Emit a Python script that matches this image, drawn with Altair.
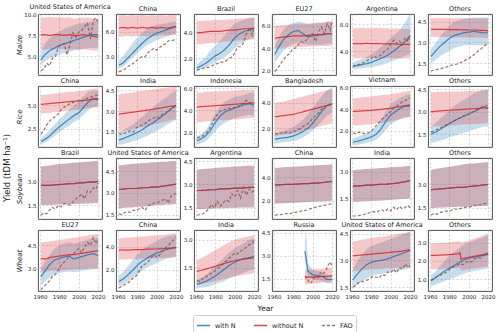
import altair as alt
import pandas as pd

# ---------------------------------------------------------------- year grids
YEARS = [1961, 1965, 1970, 1975, 1980, 1985, 1990, 1995, 2000, 2005, 2010, 2015, 2020]
FAO_YEARS = [1961, 1964, 1967, 1970, 1973, 1976, 1979, 1982, 1985, 1988, 1991,
             1994, 1997, 2000, 2003, 2006, 2009, 2012, 2015, 2018, 2020]
RU_YEARS = [1992, 1993, 1995, 2000, 2005, 2010, 2015, 2020]
RU_FAO_YEARS = [1992, 1994, 1996, 1998, 2000, 2002, 2004, 2006, 2008, 2010, 2012, 2014, 2016, 2018, 2020]
OTH_WHEAT_NN_YEARS = [1961, 1965, 1970, 1975, 1980, 1985, 1990, 1991, 1992, 1995, 2000, 2005, 2010, 2015, 2020]

SERIES = ["with N", "without N", "FAO"]
CROPS = ["Maize", "Rice", "Soybean", "Wheat"]

# ---------------------------------------------------------------- maize
maize_usa_wn = [4.6, 5.2, 5.7, 6.0, 6.3, 6.5, 6.7, 6.9, 7.1, 7.3, 7.5, 7.6, 7.6]
maize_usa_wn_lo = [4.0, 4.4, 4.8, 5.0, 5.2, 5.4, 5.6, 5.7, 5.8, 5.9, 6.0, 6.0, 6.1]
maize_usa_wn_hi = [5.6, 6.5, 7.2, 7.6, 8.0, 8.3, 8.5, 8.7, 8.9, 9.0, 9.1, 9.2, 9.3]
maize_usa_nn = [7.6, 7.6, 7.5, 7.6, 7.6, 7.5, 7.6, 7.5, 7.5, 7.6, 7.5, 7.4, 7.3]
maize_usa_nn_lo = [5.8, 5.8, 5.9, 5.9, 5.9, 5.9, 5.8, 5.9, 5.8, 5.9, 5.8, 5.7, 5.7]
maize_usa_nn_hi = [9.7, 9.6, 9.7, 9.6, 9.7, 9.6, 9.7, 9.5, 9.6, 9.6, 9.6, 9.5, 9.4]
maize_usa_fao = [3.3, 3.5, 4.2, 3.9, 4.8, 5.0, 6.2, 6.4, 6.5, 5.2, 6.4, 7.8, 7.3, 7.9, 8.1, 8.5, 9.0, 7.1, 9.3, 9.6, 9.0]

maize_chn_wn = [2.0, 2.2, 2.8, 3.4, 4.0, 4.6, 5.1, 5.5, 5.8, 6.0, 6.2, 6.4, 6.6]
maize_chn_wn_lo = [1.6, 1.8, 2.3, 2.9, 3.4, 3.9, 4.4, 4.7, 5.0, 5.2, 5.4, 5.6, 5.8]
maize_chn_wn_hi = [2.6, 3.0, 3.8, 4.6, 5.3, 5.9, 6.3, 6.6, 6.8, 6.9, 7.0, 7.1, 7.2]
maize_chn_nn = [6.4, 6.5, 6.4, 6.5, 6.4, 6.5, 6.4, 6.5, 6.4, 6.5, 6.4, 6.5, 6.6]
maize_chn_nn_lo = [5.4, 5.4, 5.5, 5.4, 5.5, 5.5, 5.4, 5.5, 5.5, 5.6, 5.5, 5.6, 5.6]
maize_chn_nn_hi = [7.9, 8.0, 7.9, 8.0, 7.9, 8.0, 7.9, 8.0, 7.9, 8.0, 7.9, 8.0, 8.0]
maize_chn_fao = [1.2, 1.3, 1.5, 1.8, 2.0, 2.2, 2.5, 2.8, 3.0, 3.0, 3.5, 3.7, 4.0, 3.8, 4.1, 4.4, 4.5, 4.9, 4.9, 5.0, 5.0]

maize_bra_wn = [1.25, 1.4, 1.6, 1.9, 2.2, 2.4, 2.7, 3.1, 3.6, 3.9, 4.1, 4.2, 4.3]
maize_bra_wn_lo = [1.0, 1.1, 1.3, 1.5, 1.7, 1.9, 2.1, 2.4, 2.8, 3.1, 3.3, 3.5, 3.6]
maize_bra_wn_hi = [1.5, 1.8, 2.1, 2.6, 3.0, 3.4, 3.8, 4.3, 4.7, 4.9, 5.0, 5.1, 5.2]
maize_bra_nn = [4.0, 4.0, 4.05, 4.1, 4.1, 4.1, 4.15, 4.2, 4.2, 4.25, 4.3, 4.3, 4.35]
maize_bra_nn_lo = [3.1, 3.1, 3.15, 3.2, 3.2, 3.25, 3.3, 3.3, 3.35, 3.4, 3.4, 3.45, 3.5]
maize_bra_nn_hi = [4.9, 4.9, 4.95, 4.95, 5.0, 5.0, 5.0, 5.05, 5.05, 5.1, 5.1, 5.15, 5.15]
maize_bra_fao = [1.1, 1.15, 1.2, 1.3, 1.3, 1.4, 1.5, 1.6, 1.7, 1.7, 1.8, 2.0, 2.1, 2.4, 2.9, 2.9, 3.2, 3.9, 4.4, 3.8, 4.4]

maize_eu_wn = [3.45, 4.1, 4.8, 5.2, 5.5, 5.6, 5.3, 5.0, 5.1, 5.2, 5.2, 5.3, 5.3]
maize_eu_wn_lo = [2.7, 3.2, 3.8, 4.2, 4.4, 4.5, 4.4, 4.3, 4.3, 4.3, 4.3, 4.4, 4.4]
maize_eu_wn_hi = [4.2, 5.0, 5.7, 6.1, 6.3, 6.4, 6.3, 6.2, 6.2, 6.3, 6.3, 6.4, 6.4]
maize_eu_nn = [4.9, 4.95, 5.0, 5.05, 5.1, 5.1, 5.1, 5.15, 5.2, 5.2, 5.25, 5.3, 5.3]
maize_eu_nn_lo = [4.0, 4.0, 4.05, 4.05, 4.1, 4.1, 4.1, 4.15, 4.15, 4.2, 4.2, 4.2, 4.25]
maize_eu_nn_hi = [6.0, 6.05, 6.1, 6.1, 6.15, 6.2, 6.2, 6.2, 6.25, 6.3, 6.3, 6.35, 6.4]
maize_eu_fao = [1.9, 2.2, 2.6, 3.0, 3.3, 3.5, 3.9, 4.0, 4.3, 4.6, 4.5, 4.8, 5.2, 5.3, 4.6, 5.5, 5.9, 5.3, 6.2, 5.6, 6.4]

maize_arg_wn = [1.75, 1.8, 1.95, 2.1, 2.3, 2.6, 2.9, 3.2, 3.7, 4.2, 4.8, 5.4, 6.3]
maize_arg_wn_lo = [1.3, 1.35, 1.4, 1.5, 1.6, 1.7, 1.9, 2.1, 2.4, 2.7, 3.0, 3.3, 3.6]
maize_arg_wn_hi = [2.3, 2.5, 2.8, 3.1, 3.5, 4.0, 4.6, 5.3, 6.0, 6.6, 7.3, 8.3, 9.5]
maize_arg_nn = [5.1, 5.1, 5.1, 5.15, 5.1, 5.1, 5.1, 5.05, 5.1, 5.05, 5.0, 5.0, 5.0]
maize_arg_nn_lo = [2.9, 2.9, 2.95, 2.9, 2.95, 2.9, 2.9, 2.95, 2.9, 2.9, 2.85, 2.9, 2.85]
maize_arg_nn_hi = [7.4, 7.4, 7.45, 7.4, 7.4, 7.45, 7.4, 7.4, 7.35, 7.4, 7.35, 7.3, 7.3]
maize_arg_fao = [1.7, 1.9, 2.0, 2.0, 2.4, 2.6, 2.7, 3.2, 3.0, 3.2, 3.6, 4.0, 4.3, 5.0, 5.6, 5.1, 5.5, 4.9, 6.0, 5.4, 6.4]

maize_oth_wn = [2.0, 2.3, 2.7, 3.0, 3.3, 3.5, 3.6, 3.7, 3.75, 3.8, 3.75, 3.7, 3.7]
maize_oth_wn_lo = [1.5, 1.7, 2.0, 2.2, 2.4, 2.6, 2.7, 2.8, 2.8, 2.8, 2.8, 2.8, 2.8]
maize_oth_wn_hi = [2.5, 2.9, 3.4, 3.8, 4.2, 4.5, 4.6, 4.7, 4.75, 4.8, 4.8, 4.8, 4.8]
maize_oth_nn = [3.95, 3.95, 3.94, 3.94, 3.93, 3.93, 3.92, 3.91, 3.9, 3.9, 3.88, 3.87, 3.85]
maize_oth_nn_lo = [3.4, 3.4, 3.4, 3.39, 3.39, 3.38, 3.38, 3.37, 3.36, 3.36, 3.35, 3.34, 3.33]
maize_oth_nn_hi = [4.75, 4.75, 4.76, 4.75, 4.76, 4.75, 4.75, 4.74, 4.75, 4.74, 4.73, 4.73, 4.72]
maize_oth_fao = [0.95, 1.0, 1.05, 1.1, 1.15, 1.2, 1.3, 1.35, 1.4, 1.45, 1.55, 1.6, 1.75, 1.85, 2.0, 2.15, 2.35, 2.5, 2.7, 2.85, 3.0]

# ---------------------------------------------------------------- rice
rice_chn_wn = [1.1, 1.3, 1.7, 2.2, 2.7, 3.1, 3.5, 3.9, 4.2, 4.8, 5.4, 5.7, 5.6]
rice_chn_wn_lo = [0.8, 0.95, 1.3, 1.7, 2.1, 2.5, 2.8, 3.2, 3.5, 4.0, 4.5, 4.8, 4.8]
rice_chn_wn_hi = [1.5, 1.8, 2.3, 2.9, 3.5, 4.0, 4.5, 5.0, 5.4, 6.0, 6.5, 6.6, 6.6]
rice_chn_nn = [5.1, 5.15, 5.2, 5.25, 5.3, 5.35, 5.4, 5.45, 5.5, 5.55, 5.6, 5.7, 5.75]
rice_chn_nn_lo = [4.1, 4.15, 4.2, 4.25, 4.3, 4.4, 4.4, 4.5, 4.5, 4.6, 4.7, 4.8, 4.9]
rice_chn_nn_hi = [6.1, 6.15, 6.2, 6.3, 6.35, 6.4, 6.45, 6.5, 6.55, 6.6, 6.7, 6.8, 6.85]
rice_chn_fao = [1.9, 2.3, 2.9, 3.3, 3.6, 3.8, 4.1, 4.6, 4.8, 5.0, 5.2, 5.3, 5.4, 5.5, 5.4, 5.6, 5.8, 5.9, 6.0, 6.1, 6.1]

rice_ind_wn = [0.9, 1.0, 1.15, 1.3, 1.45, 1.65, 1.9, 2.1, 2.35, 2.6, 2.9, 3.2, 3.4]
rice_ind_wn_lo = [0.55, 0.6, 0.7, 0.8, 0.9, 1.05, 1.2, 1.4, 1.55, 1.75, 2.0, 2.2, 2.4]
rice_ind_wn_hi = [1.4, 1.6, 1.8, 2.0, 2.3, 2.6, 2.9, 3.2, 3.5, 3.8, 4.0, 4.3, 4.5]
rice_ind_nn = [2.78, 2.82, 2.87, 2.92, 2.97, 3.02, 3.07, 3.12, 3.18, 3.24, 3.3, 3.36, 3.4]
rice_ind_nn_lo = [1.5, 1.55, 1.6, 1.7, 1.8, 1.85, 1.9, 2.0, 2.1, 2.2, 2.25, 2.35, 2.4]
rice_ind_nn_hi = [4.2, 4.25, 4.3, 4.35, 4.4, 4.45, 4.5, 4.55, 4.6, 4.65, 4.7, 4.75, 4.8]
rice_ind_fao = [1.4, 1.3, 1.4, 1.5, 1.6, 1.5, 1.8, 1.9, 2.0, 2.1, 2.3, 2.4, 2.5, 2.6, 2.5, 2.8, 2.8, 3.0, 3.1, 3.3, 3.4]

rice_idn_wn = [1.25, 1.4, 1.7, 2.2, 2.9, 3.5, 3.85, 4.05, 4.2, 4.35, 4.5, 4.6, 4.45]
rice_idn_wn_lo = [0.9, 1.0, 1.2, 1.6, 2.1, 2.6, 2.9, 3.1, 3.3, 3.4, 3.5, 3.6, 3.5]
rice_idn_wn_hi = [1.6, 1.8, 2.2, 2.9, 3.7, 4.4, 4.8, 5.0, 5.2, 5.3, 5.4, 5.6, 5.6]
rice_idn_nn = [4.3, 4.33, 4.36, 4.39, 4.42, 4.45, 4.48, 4.52, 4.55, 4.58, 4.62, 4.65, 4.68]
rice_idn_nn_lo = [2.9, 2.95, 3.0, 3.0, 3.05, 3.1, 3.1, 3.15, 3.2, 3.2, 3.25, 3.3, 3.3]
rice_idn_nn_hi = [5.6, 5.62, 5.65, 5.67, 5.7, 5.72, 5.75, 5.77, 5.8, 5.82, 5.85, 5.87, 5.9]
rice_idn_fao = [1.5, 1.6, 1.7, 1.9, 2.2, 2.7, 3.2, 3.6, 3.9, 4.0, 4.1, 4.2, 4.1, 4.3, 4.4, 4.4, 4.7, 4.9, 4.7, 4.6, 4.6]

rice_bgd_wn = [1.15, 1.2, 1.25, 1.3, 1.4, 1.55, 1.75, 2.0, 2.4, 2.9, 3.4, 3.8, 3.9]
rice_bgd_wn_lo = [0.8, 0.85, 0.9, 0.95, 1.0, 1.1, 1.3, 1.5, 1.8, 2.2, 2.6, 3.0, 3.2]
rice_bgd_wn_hi = [1.6, 1.7, 1.8, 1.95, 2.1, 2.4, 2.7, 3.1, 3.6, 4.1, 4.6, 5.0, 5.2]
rice_bgd_nn = [2.9, 2.95, 3.0, 3.05, 3.1, 3.2, 3.3, 3.4, 3.5, 3.6, 3.7, 3.8, 3.9]
rice_bgd_nn_lo = [1.4, 1.45, 1.5, 1.55, 1.6, 1.7, 1.8, 1.9, 2.0, 2.1, 2.2, 2.3, 2.4]
rice_bgd_nn_hi = [4.0, 4.05, 4.1, 4.2, 4.3, 4.4, 4.5, 4.6, 4.7, 4.8, 4.9, 5.0, 5.1]
rice_bgd_fao = [1.6, 1.55, 1.65, 1.6, 1.7, 1.6, 1.75, 1.8, 1.9, 2.0, 2.2, 2.3, 2.5, 2.8, 3.0, 3.2, 3.5, 3.7, 3.8, 3.9, 4.0]

rice_vnm_wn = [0.97, 1.05, 1.15, 1.3, 1.45, 1.7, 2.2, 2.9, 3.5, 3.8, 4.1, 4.3, 4.3]
rice_vnm_wn_lo = [0.65, 0.7, 0.8, 0.9, 1.0, 1.2, 1.6, 2.1, 2.6, 2.9, 3.1, 3.3, 3.3]
rice_vnm_wn_hi = [1.3, 1.45, 1.6, 1.8, 2.0, 2.4, 3.0, 3.8, 4.5, 4.8, 5.1, 5.3, 5.4]
rice_vnm_nn = [3.8, 3.82, 3.85, 3.88, 3.9, 3.95, 4.0, 4.05, 4.1, 4.2, 4.25, 4.35, 4.4]
rice_vnm_nn_lo = [2.5, 2.5, 2.55, 2.6, 2.6, 2.7, 2.75, 2.8, 2.9, 3.0, 3.1, 3.2, 3.3]
rice_vnm_nn_hi = [5.0, 5.05, 5.1, 5.15, 5.2, 5.25, 5.3, 5.35, 5.4, 5.5, 5.55, 5.65, 5.7]
rice_vnm_fao = [1.8, 1.75, 1.9, 1.85, 1.75, 1.8, 1.9, 2.2, 2.5, 2.8, 3.1, 3.3, 3.6, 3.8, 4.1, 4.3, 4.5, 4.7, 4.8, 5.0, 5.1]

rice_oth_wn = [1.5, 1.6, 1.8, 2.0, 2.2, 2.4, 2.55, 2.7, 2.85, 3.0, 3.15, 3.35, 3.2]
rice_oth_wn_lo = [0.9, 0.95, 1.05, 1.15, 1.3, 1.4, 1.5, 1.6, 1.7, 1.8, 1.9, 2.0, 2.0]
rice_oth_wn_hi = [2.0, 2.2, 2.5, 2.8, 3.1, 3.4, 3.6, 3.8, 4.0, 4.2, 4.35, 4.45, 4.5]
rice_oth_nn = [3.0, 3.02, 3.05, 3.07, 3.1, 3.12, 3.13, 3.16, 3.18, 3.2, 3.22, 3.25, 3.25]
rice_oth_nn_lo = [2.0, 2.02, 2.05, 2.06, 2.08, 2.1, 2.12, 2.15, 2.16, 2.18, 2.2, 2.22, 2.25]
rice_oth_nn_hi = [4.3, 4.31, 4.33, 4.33, 4.34, 4.36, 4.36, 4.37, 4.39, 4.4, 4.41, 4.43, 4.45]
rice_oth_fao = [1.65, 1.7, 1.8, 1.9, 2.0, 2.1, 2.2, 2.3, 2.4, 2.5, 2.6, 2.7, 2.8, 2.85, 2.95, 3.05, 3.15, 3.25, 3.35, 3.4, 3.4]

# ---------------------------------------------------------------- soybean (with N == without N)
soy_bra_mid = [2.75, 2.75, 2.75, 2.78, 2.8, 2.82, 2.85, 2.85, 2.9, 2.9, 2.95, 2.95, 3.0]
soy_bra_lo = [1.5, 1.5, 1.5, 1.52, 1.55, 1.55, 1.55, 1.57, 1.58, 1.6, 1.6, 1.62, 1.65]
soy_bra_hi = [3.95, 3.98, 4.0, 4.05, 4.1, 4.12, 4.15, 4.18, 4.2, 4.22, 4.25, 4.28, 4.3]
soy_bra_fao = [0.85, 1.0, 0.95, 1.2, 1.35, 1.25, 1.5, 1.4, 1.6, 1.55, 1.5, 1.7, 1.9, 2.0, 2.2, 1.9, 2.4, 2.3, 2.6, 2.5, 2.9]

soy_usa_mid = [3.25, 3.25, 3.3, 3.3, 3.3, 3.35, 3.35, 3.4, 3.4, 3.45, 3.5, 3.55, 3.6]
soy_usa_lo = [1.9, 1.95, 2.0, 2.0, 2.05, 2.05, 2.1, 2.1, 2.15, 2.15, 2.2, 2.2, 2.25]
soy_usa_hi = [4.9, 4.92, 4.95, 5.0, 5.0, 5.05, 5.05, 5.1, 5.1, 5.15, 5.15, 5.2, 5.2]
soy_usa_fao = [1.55, 1.5, 1.65, 1.7, 1.65, 1.8, 1.8, 1.9, 2.0, 1.8, 2.1, 2.2, 2.3, 2.3, 2.4, 2.5, 2.6, 2.3, 2.8, 2.9, 2.95]

soy_arg_mid = [2.6, 2.6, 2.62, 2.65, 2.65, 2.7, 2.7, 2.72, 2.75, 2.75, 2.78, 2.8, 2.8]
soy_arg_lo = [1.4, 1.4, 1.42, 1.42, 1.45, 1.45, 1.45, 1.48, 1.48, 1.5, 1.5, 1.5, 1.52]
soy_arg_hi = [3.95, 3.98, 4.0, 4.02, 4.05, 4.08, 4.1, 4.12, 4.15, 4.15, 4.18, 4.2, 4.2]
soy_arg_fao = [1.0, 1.05, 1.1, 1.2, 1.4, 1.7, 1.5, 1.9, 1.6, 1.8, 2.0, 1.9, 2.4, 2.2, 2.6, 2.1, 2.8, 2.3, 2.7, 2.5, 2.6]

soy_chn_mid = [3.35, 3.35, 3.38, 3.4, 3.4, 3.42, 3.45, 3.45, 3.5, 3.5, 3.55, 3.6, 3.65]
soy_chn_lo = [1.75, 1.76, 1.78, 1.8, 1.82, 1.84, 1.86, 1.88, 1.9, 1.92, 1.95, 1.98, 2.0]
soy_chn_hi = [4.8, 4.82, 4.85, 4.88, 4.9, 4.92, 4.95, 4.97, 5.0, 5.02, 5.05, 5.08, 5.1]
soy_chn_fao = [0.75, 0.8, 0.8, 0.85, 0.9, 0.85, 0.95, 1.0, 1.05, 1.1, 1.15, 1.2, 1.3, 1.35, 1.45, 1.5, 1.55, 1.6, 1.65, 1.7, 1.75]

soy_ind_mid = [2.2, 2.2, 2.22, 2.25, 2.25, 2.28, 2.3, 2.3, 2.33, 2.35, 2.4, 2.45, 2.5]
soy_ind_lo = [1.3, 1.3, 1.32, 1.33, 1.35, 1.36, 1.38, 1.4, 1.42, 1.44, 1.46, 1.48, 1.5]
soy_ind_hi = [3.1, 3.12, 3.14, 3.16, 3.18, 3.2, 3.22, 3.24, 3.26, 3.28, 3.3, 3.32, 3.35]
soy_ind_fao = [0.5, 0.5, 0.52, 0.55, 0.6, 0.65, 0.7, 0.75, 0.7, 0.8, 0.85, 0.75, 0.9, 0.8, 1.0, 0.85, 1.05, 0.9, 1.0, 1.1, 0.95]

soy_oth_mid = [2.65, 2.67, 2.7, 2.72, 2.75, 2.78, 2.8, 2.8, 2.85, 2.88, 2.9, 2.95, 2.98]
soy_oth_lo = [1.5, 1.5, 1.52, 1.53, 1.55, 1.56, 1.57, 1.58, 1.59, 1.6, 1.6, 1.62, 1.63]
soy_oth_hi = [3.9, 3.95, 4.0, 4.05, 4.1, 4.15, 4.2, 4.25, 4.28, 4.3, 4.33, 4.36, 4.4]
soy_oth_fao = [1.05, 1.15, 1.1, 1.2, 1.25, 1.3, 1.3, 1.35, 1.45, 1.4, 1.45, 1.5, 1.55, 1.55, 1.6, 1.65, 1.7, 1.7, 1.75, 1.8, 1.85]

# ---------------------------------------------------------------- wheat
wheat_eu_wn = [2.45, 2.8, 3.25, 3.55, 3.65, 3.75, 3.8, 3.6, 3.7, 3.8, 3.9, 3.95, 3.85]
wheat_eu_wn_lo = [1.9, 2.1, 2.4, 2.6, 2.7, 2.75, 2.8, 2.75, 2.8, 2.85, 2.9, 2.95, 2.95]
wheat_eu_wn_hi = [3.0, 3.4, 3.9, 4.3, 4.5, 4.6, 4.7, 4.6, 4.7, 4.8, 4.9, 5.0, 5.0]
wheat_eu_nn = [3.65, 3.6, 3.7, 3.75, 3.8, 3.85, 3.88, 3.9, 3.95, 4.0, 4.05, 4.1, 4.15]
wheat_eu_nn_lo = [2.8, 2.8, 2.82, 2.84, 2.86, 2.88, 2.9, 2.92, 2.94, 2.96, 2.98, 3.0, 3.0]
wheat_eu_nn_hi = [4.7, 4.72, 4.75, 4.8, 4.85, 4.9, 4.95, 5.0, 5.05, 5.1, 5.15, 5.2, 5.25]
wheat_eu_fao = [1.6, 1.8, 2.0, 2.2, 2.5, 2.6, 2.9, 3.2, 3.4, 3.6, 3.9, 3.9, 4.1, 4.3, 4.0, 4.4, 4.7, 4.5, 5.0, 4.6, 4.9]

wheat_chn_wn = [1.0, 1.2, 1.55, 1.95, 2.4, 2.75, 3.0, 3.25, 3.45, 3.6, 3.75, 3.85, 3.95]
wheat_chn_wn_lo = [0.6, 0.75, 1.0, 1.3, 1.65, 1.95, 2.2, 2.4, 2.6, 2.8, 2.95, 3.05, 3.15]
wheat_chn_wn_hi = [1.5, 1.8, 2.3, 2.8, 3.3, 3.7, 4.0, 4.3, 4.5, 4.7, 4.85, 4.95, 5.05]
wheat_chn_nn = [3.7, 3.72, 3.7, 3.73, 3.75, 3.75, 3.78, 3.8, 3.8, 3.82, 3.85, 3.88, 3.9]
wheat_chn_nn_lo = [2.9, 2.9, 2.92, 2.92, 2.95, 2.95, 2.97, 3.0, 3.0, 3.02, 3.05, 3.07, 3.1]
wheat_chn_nn_hi = [4.7, 4.75, 4.78, 4.8, 4.85, 4.88, 4.9, 4.95, 4.98, 5.0, 5.05, 5.1, 5.15]
wheat_chn_fao = [0.45, 0.6, 0.75, 0.85, 1.1, 1.3, 1.5, 1.9, 2.4, 2.5, 2.7, 3.0, 3.3, 3.1, 3.3, 3.6, 3.9, 4.1, 4.4, 4.6, 4.8]

wheat_ind_wn = [0.6, 0.65, 0.75, 0.9, 1.05, 1.25, 1.45, 1.65, 1.8, 1.92, 2.0, 2.05, 2.1]
wheat_ind_wn_lo = [0.4, 0.42, 0.45, 0.5, 0.6, 0.7, 0.8, 0.95, 1.05, 1.15, 1.25, 1.35, 1.4]
wheat_ind_wn_hi = [0.85, 0.95, 1.1, 1.35, 1.6, 1.85, 2.1, 2.35, 2.55, 2.7, 2.85, 3.0, 3.1]
wheat_ind_nn = [1.3, 1.35, 1.42, 1.5, 1.58, 1.66, 1.74, 1.82, 1.88, 1.93, 1.97, 2.0, 2.05]
wheat_ind_nn_lo = [0.6, 0.63, 0.68, 0.72, 0.78, 0.84, 0.9, 0.96, 1.02, 1.08, 1.12, 1.16, 1.2]
wheat_ind_nn_hi = [1.9, 2.0, 2.15, 2.3, 2.45, 2.6, 2.75, 2.9, 3.0, 3.1, 3.15, 3.2, 3.25]
wheat_ind_fao = [0.8, 0.75, 0.9, 1.0, 1.1, 1.2, 1.3, 1.45, 1.55, 1.7, 1.85, 2.0, 2.15, 2.3, 2.25, 2.4, 2.5, 2.6, 2.75, 2.8, 3.0]

wheat_rus_wn = [3.3, 2.9, 2.0, 1.75, 1.7, 1.65, 1.45, 1.45]
wheat_rus_wn_lo = [2.8, 2.2, 1.6, 1.45, 1.4, 1.35, 1.2, 1.2]
wheat_rus_wn_hi = [3.8, 4.8, 2.5, 2.1, 2.0, 1.95, 1.75, 1.75]
wheat_rus_nn = [1.6, 1.55, 1.6, 1.6, 1.62, 1.65, 1.65, 1.7]
wheat_rus_nn_lo = [1.15, 1.1, 1.15, 1.2, 1.2, 1.25, 1.25, 1.3]
wheat_rus_nn_hi = [2.1, 2.05, 2.1, 2.1, 2.15, 2.15, 2.2, 2.2]
wheat_rus_fao = [1.7, 1.6, 1.3, 1.2, 1.4, 1.6, 1.7, 1.6, 1.9, 1.8, 1.9, 2.1, 2.4, 2.6, 2.3]

wheat_usa_wn = [1.9, 2.2, 2.5, 2.75, 2.9, 2.95, 3.0, 3.05, 3.15, 3.25, 3.35, 3.45, 3.55]
wheat_usa_wn_lo = [1.4, 1.6, 1.8, 2.0, 2.1, 2.2, 2.25, 2.3, 2.35, 2.4, 2.45, 2.5, 2.55]
wheat_usa_wn_hi = [2.5, 2.9, 3.3, 3.6, 3.8, 3.9, 4.0, 4.1, 4.2, 4.3, 4.4, 4.5, 4.6]
wheat_usa_nn = [3.25, 3.27, 3.3, 3.32, 3.35, 3.38, 3.4, 3.42, 3.45, 3.48, 3.5, 3.55, 3.6]
wheat_usa_nn_lo = [2.4, 2.42, 2.45, 2.47, 2.5, 2.5, 2.52, 2.55, 2.55, 2.57, 2.58, 2.6, 2.6]
wheat_usa_nn_hi = [4.05, 4.1, 4.15, 4.2, 4.25, 4.3, 4.32, 4.35, 4.4, 4.45, 4.5, 4.55, 4.6]
wheat_usa_fao = [1.5, 1.6, 1.75, 1.8, 1.85, 1.9, 2.0, 2.1, 2.05, 2.0, 2.2, 2.15, 2.35, 2.3, 2.5, 2.3, 2.6, 2.5, 2.8, 2.6, 2.7]

wheat_oth_wn = [0.9, 1.05, 1.25, 1.45, 1.6, 1.75, 1.9, 2.05, 2.15, 2.2, 2.25, 2.3, 2.35]
wheat_oth_wn_lo = [0.6, 0.7, 0.8, 0.9, 1.0, 1.1, 1.2, 1.3, 1.4, 1.45, 1.5, 1.55, 1.6]
wheat_oth_wn_hi = [1.2, 1.4, 1.7, 2.0, 2.3, 2.5, 2.7, 2.9, 3.0, 3.1, 3.2, 3.3, 3.4]
wheat_oth_nn = [2.3, 2.3, 2.32, 2.33, 2.35, 2.37, 2.4, 2.45, 2.1, 2.15, 2.2, 2.25, 2.3, 2.35, 2.4]
wheat_oth_nn_lo = [1.55, 1.55, 1.56, 1.57, 1.58, 1.6, 1.62, 1.64, 1.45, 1.5, 1.55, 1.6, 1.62, 1.65, 1.7]
wheat_oth_nn_hi = [2.95, 2.97, 3.0, 3.0, 3.02, 3.05, 3.08, 3.1, 3.0, 3.05, 3.1, 3.2, 3.3, 3.4, 3.5]
wheat_oth_fao = [0.95, 1.05, 1.15, 1.2, 1.3, 1.35, 1.5, 1.6, 1.7, 1.75, 1.85, 1.8, 1.9, 2.0, 1.95, 2.1, 2.2, 2.15, 2.3, 2.45, 2.35]

# ---------------------------------------------------------------- panel table
# (crop, title, years, with N (mid, lo, hi), without N years, without N (mid, lo, hi),
#  FAO years, FAO, y-range, y-ticks)
PANELS = [
    ("Maize", "United States of America", YEARS, (maize_usa_wn, maize_usa_wn_lo, maize_usa_wn_hi), YEARS,
     (maize_usa_nn, maize_usa_nn_lo, maize_usa_nn_hi), FAO_YEARS, maize_usa_fao, [2.8, 10.05], [5.0, 7.5, 10.0]),
    ("Maize", "China", YEARS, (maize_chn_wn, maize_chn_wn_lo, maize_chn_wn_hi), YEARS,
     (maize_chn_nn, maize_chn_nn_lo, maize_chn_nn_hi), FAO_YEARS, maize_chn_fao, [0.8, 8.1], [3.0, 6.0]),
    ("Maize", "Brazil", YEARS, (maize_bra_wn, maize_bra_wn_lo, maize_bra_wn_hi), YEARS,
     (maize_bra_nn, maize_bra_nn_lo, maize_bra_nn_hi), FAO_YEARS, maize_bra_fao, [0.7, 5.45], [2.0, 4.0]),
    ("Maize", "EU27", YEARS, (maize_eu_wn, maize_eu_wn_lo, maize_eu_wn_hi), YEARS,
     (maize_eu_nn, maize_eu_nn_lo, maize_eu_nn_hi), FAO_YEARS, maize_eu_fao, [1.58, 7.08], [2.0, 4.0, 6.0]),
    ("Maize", "Argentina", YEARS, (maize_arg_wn, maize_arg_wn_lo, maize_arg_wn_hi), YEARS,
     (maize_arg_nn, maize_arg_nn_lo, maize_arg_nn_hi), FAO_YEARS, maize_arg_fao, [0.4, 9.55], [4.0, 8.0]),
    ("Maize", "Others", YEARS, (maize_oth_wn, maize_oth_wn_lo, maize_oth_wn_hi), YEARS,
     (maize_oth_nn, maize_oth_nn_lo, maize_oth_nn_hi), FAO_YEARS, maize_oth_fao, [0.66, 5.05], [1.5, 3.0, 4.5]),

    ("Rice", "China", YEARS, (rice_chn_wn, rice_chn_wn_lo, rice_chn_wn_hi), YEARS,
     (rice_chn_nn, rice_chn_nn_lo, rice_chn_nn_hi), FAO_YEARS, rice_chn_fao, [0.5, 7.1], [2.5, 5.0]),
    ("Rice", "India", YEARS, (rice_ind_wn, rice_ind_wn_lo, rice_ind_wn_hi), YEARS,
     (rice_ind_nn, rice_ind_nn_lo, rice_ind_nn_hi), FAO_YEARS, rice_ind_fao, [0.4, 4.82], [1.5, 3.0, 4.5]),
    ("Rice", "Indonesia", YEARS, (rice_idn_wn, rice_idn_wn_lo, rice_idn_wn_hi), YEARS,
     (rice_idn_nn, rice_idn_nn_lo, rice_idn_nn_hi), FAO_YEARS, rice_idn_fao, [0.68, 6.2], [2.0, 4.0, 6.0]),
    ("Rice", "Bangladesh", YEARS, (rice_bgd_wn, rice_bgd_wn_lo, rice_bgd_wn_hi), YEARS,
     (rice_bgd_nn, rice_bgd_nn_lo, rice_bgd_nn_hi), FAO_YEARS, rice_bgd_fao, [0.53, 5.33], [2.0, 4.0]),
    ("Rice", "Vietnam", YEARS, (rice_vnm_wn, rice_vnm_wn_lo, rice_vnm_wn_hi), YEARS,
     (rice_vnm_nn, rice_vnm_nn_lo, rice_vnm_nn_hi), FAO_YEARS, rice_vnm_fao, [0.52, 6.16], [2.0, 4.0, 6.0]),
    ("Rice", "Others", YEARS, (rice_oth_wn, rice_oth_wn_lo, rice_oth_wn_hi), YEARS,
     (rice_oth_nn, rice_oth_nn_lo, rice_oth_nn_hi), FAO_YEARS, rice_oth_fao, [0.64, 4.72], [1.5, 3.0, 4.5]),

    ("Soybean", "Brazil", YEARS, (soy_bra_mid, soy_bra_lo, soy_bra_hi), YEARS,
     (soy_bra_mid, soy_bra_lo, soy_bra_hi), FAO_YEARS, soy_bra_fao, [0.62, 4.48], [1.5, 3.0]),
    ("Soybean", "United States of America", YEARS, (soy_usa_mid, soy_usa_lo, soy_usa_hi), YEARS,
     (soy_usa_mid, soy_usa_lo, soy_usa_hi), FAO_YEARS, soy_usa_fao, [1.2, 5.4], [1.5, 3.0, 4.5]),
    ("Soybean", "Argentina", YEARS, (soy_arg_mid, soy_arg_lo, soy_arg_hi), YEARS,
     (soy_arg_mid, soy_arg_lo, soy_arg_hi), FAO_YEARS, soy_arg_fao, [0.76, 4.7], [1.5, 3.0, 4.5]),
    ("Soybean", "China", YEARS, (soy_chn_mid, soy_chn_lo, soy_chn_hi), YEARS,
     (soy_chn_mid, soy_chn_lo, soy_chn_hi), FAO_YEARS, soy_chn_fao, [0.43, 5.65], [2.0, 4.0]),
    ("Soybean", "India", YEARS, (soy_ind_mid, soy_ind_lo, soy_ind_hi), YEARS,
     (soy_ind_mid, soy_ind_lo, soy_ind_hi), FAO_YEARS, soy_ind_fao, [0.33, 3.79], [1.5, 3.0]),
    ("Soybean", "Others", YEARS, (soy_oth_mid, soy_oth_lo, soy_oth_hi), YEARS,
     (soy_oth_mid, soy_oth_lo, soy_oth_hi), FAO_YEARS, soy_oth_fao, [0.8, 4.65], [1.5, 3.0]),

    ("Wheat", "EU27", YEARS, (wheat_eu_wn, wheat_eu_wn_lo, wheat_eu_wn_hi), YEARS,
     (wheat_eu_nn, wheat_eu_nn_lo, wheat_eu_nn_hi), FAO_YEARS, wheat_eu_fao, [1.52, 5.5], [3.0, 4.5]),
    ("Wheat", "China", YEARS, (wheat_chn_wn, wheat_chn_wn_lo, wheat_chn_wn_hi), YEARS,
     (wheat_chn_nn, wheat_chn_nn_lo, wheat_chn_nn_hi), FAO_YEARS, wheat_chn_fao, [0.19, 5.43], [2.0, 4.0]),
    ("Wheat", "India", YEARS, (wheat_ind_wn, wheat_ind_wn_lo, wheat_ind_wn_hi), YEARS,
     (wheat_ind_nn, wheat_ind_nn_lo, wheat_ind_nn_hi), FAO_YEARS, wheat_ind_fao, [0.24, 3.54], [1.5, 3.0]),
    ("Wheat", "Russia", RU_YEARS, (wheat_rus_wn, wheat_rus_wn_lo, wheat_rus_wn_hi), RU_YEARS,
     (wheat_rus_nn, wheat_rus_nn_lo, wheat_rus_nn_hi), RU_FAO_YEARS, wheat_rus_fao, [0.7, 4.68], [1.5, 3.0, 4.5]),
    ("Wheat", "United States of America", YEARS, (wheat_usa_wn, wheat_usa_wn_lo, wheat_usa_wn_hi), YEARS,
     (wheat_usa_nn, wheat_usa_nn_lo, wheat_usa_nn_hi), FAO_YEARS, wheat_usa_fao, [1.28, 4.7], [1.5, 3.0, 4.5]),
    ("Wheat", "Others", YEARS, (wheat_oth_wn, wheat_oth_wn_lo, wheat_oth_wn_hi), OTH_WHEAT_NN_YEARS,
     (wheat_oth_nn, wheat_oth_nn_lo, wheat_oth_nn_hi), FAO_YEARS, wheat_oth_fao, [0.36, 3.69], [1.0, 2.0, 3.0]),
]

# ---------------------------------------------------------------- styling
BLUE, RED, BROWN = "#1f77b4", "#d62728", "#8c564b"
FONT = "DejaVu Sans"
INK = "#1a1a1a"
W, H = 64, 61
X_TICKS = [1960, 1980, 2000, 2020]

LEGEND = alt.Legend(
    orient="none", legendX=155, legendY=301, direction="horizontal", title=None,
    symbolType="stroke", symbolSize=170, symbolStrokeWidth=1.6, symbolOpacity=0.85,
    labelFontSize=6.5, labelFont=FONT, labelColor=INK, columnPadding=14,
    strokeColor="#cccccc", fillColor="white", padding=3, cornerRadius=2,
)


def make_panel(idx, spec):
    crop, name, yrs, wn, nn_years, nn, fao_years, fao, ydom, yticks = spec
    row, col = divmod(idx, 6)
    bottom_row = row == 3

    x_axis = alt.Axis(
        values=X_TICKS, format="d", labels=bottom_row, labelFontSize=5.5, labelPadding=3,
        title="Year" if (bottom_row and col == 2) else None,
        titleX=W + 7, titleY=17, titleAlign="center", titleBaseline="middle",
        titleFontSize=7.5, titleFontWeight="normal",
    )
    y_axis = alt.Axis(
        values=yticks, format=".1f", labelFontSize=5.5, labelPadding=2,
        title=crop if col == 0 else None, titleFontStyle="italic", titleFontSize=7,
        titleFontWeight="normal", titleX=-19, titleY=H / 2, titleBaseline="middle",
        titleAlign="center", titleAngle=270,
    )
    xs = alt.Scale(domain=[1958, 2024], nice=False, zero=False)
    ys = alt.Scale(domain=ydom, nice=False, zero=False)
    x = alt.X("year:Q", scale=xs, axis=x_axis)

    band_wn = pd.DataFrame({"year": yrs, "lo": wn[1], "hi": wn[2]})
    band_nn = pd.DataFrame({"year": nn_years, "lo": nn[1], "hi": nn[2]})
    lines = pd.concat([
        pd.DataFrame({"year": yrs, "value": wn[0], "series": "with N"}),
        pd.DataFrame({"year": nn_years, "value": nn[0], "series": "without N"}),
        pd.DataFrame({"year": fao_years, "value": fao, "series": "FAO"}),
    ], ignore_index=True)

    def band(df, colour):
        return alt.Chart(df).mark_area(color=colour, opacity=0.25, clip=True).encode(
            x=x, y=alt.Y("lo:Q", scale=ys, axis=y_axis), y2="hi:Q")

    line = alt.Chart(lines).mark_line(strokeWidth=1.2, opacity=0.85, clip=True).encode(
        x=x,
        y=alt.Y("value:Q", scale=ys, axis=y_axis),
        color=alt.Color("series:N", scale=alt.Scale(domain=SERIES, range=[BLUE, RED, BROWN]), legend=LEGEND),
        strokeDash=alt.StrokeDash("series:N", scale=alt.Scale(domain=SERIES, range=[[1, 0], [1, 0], [3, 2]]),
                                  legend=LEGEND),
        order=alt.Order("ord:Q"),
        detail="series:N",
    ).transform_calculate(ord="indexof(['with N','without N','FAO'], datum.series)")

    return alt.layer(band(band_wn, BLUE), band(band_nn, RED), line).properties(
        width=W, height=H,
        title=alt.TitleParams(name, fontSize=6.5, font=FONT, fontWeight="normal", offset=2),
    )


panels = [make_panel(i, p) for i, p in enumerate(PANELS)]

chart = alt.concat(
    *panels, columns=6, spacing={"row": 11, "column": 14}, bounds="flush",
).resolve_scale(
    color="shared", strokeDash="shared",
).properties(
    title=alt.TitleParams("Yield (tDM ha⁻¹)", orient="left", anchor="middle", fontSize=8.5,
                          font=FONT, fontWeight="normal", offset=3),
    padding={"left": 3, "top": 3, "right": 4, "bottom": 3},
    background="white",
).configure_title(
    color=INK, subtitleColor=INK,
).configure_view(
    stroke="#3c3c3c", strokeWidth=0.9,
).configure_axis(
    labelFont=FONT, titleFont=FONT, labelColor=INK, titleColor=INK,
    domain=False, ticks=False,
    grid=True, gridColor="#b8b8b8", gridDash=[2, 2], gridWidth=0.6,
)

chart.save("out.html", embed_options={"renderer": "svg", "actions": False})
